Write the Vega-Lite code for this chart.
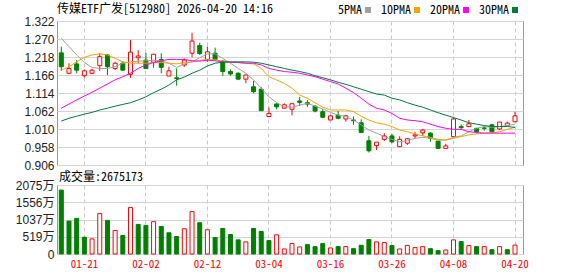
{
  "$schema": "https://vega.github.io/schema/vega-lite/v6.json",
  "autosize": {"type": "pad"},
  "padding": {"left": 14, "top": 3, "right": 56, "bottom": 4},
  "background": "#ffffff",
  "title": {"text": "传媒ETF广发[512980] 2026-04-20 14:16", "anchor": "start", "frame": "group", "orient": "top", "offset": -12, "fontSize": 12, "fontWeight": "normal", "font": "Noto Sans Mono CJK SC, Noto Sans CJK SC, monospace", "color": "#000000"},
  "bounds": "flush",
  "spacing": 20,
  "resolve": {"scale": {"x": "independent", "y": "independent"}},
  "config": {
    "view": {"stroke": "#999999", "strokeWidth": 1},
    "axis": {"labelFont": "Liberation Sans, Noto Sans CJK SC", "labelFontSize": 12, "labelColor": "#222222", "ticks": false, "domain": false, "title": null, "gridColor": "#d4d4d4", "labelOverlap": false}
  },
  "datasets": {
    "k": [
      {"d": "01-16", "o": 1.230, "h": 1.248, "l": 1.178, "c": 1.190, "v": 1922, "vd": "down", "5PMA": 1.272, "10PMA": 1.180, "20PMA": 1.070, "30PMA": 1.033},
      {"d": "01-19", "o": 1.171, "h": 1.200, "l": 1.168, "c": 1.185, "v": 990, "vd": "down", "5PMA": 1.248, "10PMA": 1.190, "20PMA": 1.082, "30PMA": 1.041},
      {"d": "01-20", "o": 1.198, "h": 1.209, "l": 1.171, "c": 1.180, "v": 1072, "vd": "down", "5PMA": 1.224, "10PMA": 1.204, "20PMA": 1.094, "30PMA": 1.047},
      {"d": "01-21", "o": 1.164, "h": 1.182, "l": 1.159, "c": 1.178, "v": 505, "vd": "down", "5PMA": 1.202, "10PMA": 1.217, "20PMA": 1.105, "30PMA": 1.053},
      {"d": "01-22", "o": 1.171, "h": 1.184, "l": 1.168, "c": 1.180, "v": 455, "vd": "up", "5PMA": 1.188, "10PMA": 1.224, "20PMA": 1.116, "30PMA": 1.058},
      {"d": "01-23", "o": 1.193, "h": 1.229, "l": 1.178, "c": 1.219, "v": 1215, "vd": "up", "5PMA": 1.185, "10PMA": 1.227, "20PMA": 1.128, "30PMA": 1.065},
      {"d": "01-26", "o": 1.224, "h": 1.227, "l": 1.166, "c": 1.190, "v": 1011, "vd": "down", "5PMA": 1.185, "10PMA": 1.224, "20PMA": 1.140, "30PMA": 1.070},
      {"d": "01-27", "o": 1.185, "h": 1.204, "l": 1.180, "c": 1.200, "v": 708, "vd": "up", "5PMA": 1.190, "10PMA": 1.214, "20PMA": 1.152, "30PMA": 1.076},
      {"d": "01-28", "o": 1.200, "h": 1.206, "l": 1.177, "c": 1.180, "v": 556, "vd": "down", "5PMA": 1.200, "10PMA": 1.204, "20PMA": 1.161, "30PMA": 1.081},
      {"d": "01-29", "o": 1.168, "h": 1.267, "l": 1.158, "c": 1.232, "v": 1397, "vd": "up", "5PMA": 1.204, "10PMA": 1.200, "20PMA": 1.171, "30PMA": 1.086},
      {"d": "01-30", "o": 1.216, "h": 1.238, "l": 1.200, "c": 1.221, "v": 890, "vd": "down", "5PMA": 1.206, "10PMA": 1.200, "20PMA": 1.185, "30PMA": 1.094},
      {"d": "02-02", "o": 1.209, "h": 1.230, "l": 1.183, "c": 1.185, "v": 860, "vd": "down", "5PMA": 1.207, "10PMA": 1.200, "20PMA": 1.195, "30PMA": 1.103},
      {"d": "02-03", "o": 1.203, "h": 1.226, "l": 1.187, "c": 1.226, "v": 972, "vd": "up", "5PMA": 1.209, "10PMA": 1.202, "20PMA": 1.202, "30PMA": 1.115},
      {"d": "02-04", "o": 1.211, "h": 1.229, "l": 1.171, "c": 1.188, "v": 829, "vd": "down", "5PMA": 1.207, "10PMA": 1.202, "20PMA": 1.207, "30PMA": 1.125},
      {"d": "02-05", "o": 1.163, "h": 1.190, "l": 1.163, "c": 1.178, "v": 638, "vd": "down", "5PMA": 1.200, "10PMA": 1.200, "20PMA": 1.211, "30PMA": 1.137},
      {"d": "02-06", "o": 1.158, "h": 1.185, "l": 1.135, "c": 1.156, "v": 525, "vd": "down", "5PMA": 1.188, "10PMA": 1.198, "20PMA": 1.211, "30PMA": 1.152},
      {"d": "02-09", "o": 1.195, "h": 1.214, "l": 1.190, "c": 1.209, "v": 759, "vd": "up", "5PMA": 1.198, "10PMA": 1.202, "20PMA": 1.211, "30PMA": 1.160},
      {"d": "02-10", "o": 1.229, "h": 1.288, "l": 1.217, "c": 1.264, "v": 1276, "vd": "up", "5PMA": 1.204, "10PMA": 1.204, "20PMA": 1.207, "30PMA": 1.171},
      {"d": "02-11", "o": 1.251, "h": 1.259, "l": 1.224, "c": 1.228, "v": 941, "vd": "down", "5PMA": 1.216, "10PMA": 1.208, "20PMA": 1.206, "30PMA": 1.180},
      {"d": "02-12", "o": 1.211, "h": 1.248, "l": 1.204, "c": 1.233, "v": 729, "vd": "up", "5PMA": 1.227, "10PMA": 1.211, "20PMA": 1.209, "30PMA": 1.192},
      {"d": "02-13", "o": 1.229, "h": 1.245, "l": 1.207, "c": 1.211, "v": 495, "vd": "down", "5PMA": 1.227, "10PMA": 1.210, "20PMA": 1.207, "30PMA": 1.200},
      {"d": "02-24", "o": 1.206, "h": 1.209, "l": 1.164, "c": 1.176, "v": 768, "vd": "down", "5PMA": 1.214, "10PMA": 1.206, "20PMA": 1.204, "30PMA": 1.203},
      {"d": "02-25", "o": 1.176, "h": 1.182, "l": 1.164, "c": 1.169, "v": 586, "vd": "down", "5PMA": 1.200, "10PMA": 1.203, "20PMA": 1.203, "30PMA": 1.204},
      {"d": "02-26", "o": 1.171, "h": 1.174, "l": 1.151, "c": 1.154, "v": 425, "vd": "down", "5PMA": 1.185, "10PMA": 1.202, "20PMA": 1.202, "30PMA": 1.204},
      {"d": "02-27", "o": 1.154, "h": 1.168, "l": 1.142, "c": 1.166, "v": 364, "vd": "up", "5PMA": 1.171, "10PMA": 1.200, "20PMA": 1.200, "30PMA": 1.204},
      {"d": "03-02", "o": 1.132, "h": 1.149, "l": 1.113, "c": 1.118, "v": 768, "vd": "down", "5PMA": 1.152, "10PMA": 1.198, "20PMA": 1.200, "30PMA": 1.203},
      {"d": "03-03", "o": 1.125, "h": 1.131, "l": 1.063, "c": 1.063, "v": 677, "vd": "down", "5PMA": 1.128, "10PMA": 1.185, "20PMA": 1.195, "30PMA": 1.200},
      {"d": "03-04", "o": 1.046, "h": 1.072, "l": 1.046, "c": 1.055, "v": 404, "vd": "down", "5PMA": 1.103, "10PMA": 1.161, "20PMA": 1.185, "30PMA": 1.195},
      {"d": "03-05", "o": 1.082, "h": 1.086, "l": 1.067, "c": 1.074, "v": 577, "vd": "up", "5PMA": 1.086, "10PMA": 1.152, "20PMA": 1.180, "30PMA": 1.190},
      {"d": "03-06", "o": 1.070, "h": 1.084, "l": 1.070, "c": 1.080, "v": 152, "vd": "up", "5PMA": 1.074, "10PMA": 1.142, "20PMA": 1.176, "30PMA": 1.185},
      {"d": "03-09", "o": 1.067, "h": 1.084, "l": 1.050, "c": 1.083, "v": 313, "vd": "up", "5PMA": 1.073, "10PMA": 1.128, "20PMA": 1.174, "30PMA": 1.180},
      {"d": "03-10", "o": 1.091, "h": 1.103, "l": 1.077, "c": 1.087, "v": 212, "vd": "up", "5PMA": 1.079, "10PMA": 1.108, "20PMA": 1.171, "30PMA": 1.176},
      {"d": "03-11", "o": 1.086, "h": 1.094, "l": 1.074, "c": 1.082, "v": 282, "vd": "down", "5PMA": 1.084, "10PMA": 1.099, "20PMA": 1.166, "30PMA": 1.171},
      {"d": "03-12", "o": 1.076, "h": 1.079, "l": 1.058, "c": 1.062, "v": 222, "vd": "down", "5PMA": 1.076, "10PMA": 1.086, "20PMA": 1.161, "30PMA": 1.164},
      {"d": "03-13", "o": 1.060, "h": 1.067, "l": 1.041, "c": 1.044, "v": 313, "vd": "down", "5PMA": 1.068, "10PMA": 1.073, "20PMA": 1.154, "30PMA": 1.158},
      {"d": "03-16", "o": 1.036, "h": 1.050, "l": 1.036, "c": 1.048, "v": 182, "vd": "up", "5PMA": 1.058, "10PMA": 1.065, "20PMA": 1.147, "30PMA": 1.152},
      {"d": "03-17", "o": 1.050, "h": 1.062, "l": 1.038, "c": 1.041, "v": 222, "vd": "down", "5PMA": 1.050, "10PMA": 1.065, "20PMA": 1.140, "30PMA": 1.145},
      {"d": "03-18", "o": 1.039, "h": 1.050, "l": 1.031, "c": 1.048, "v": 222, "vd": "up", "5PMA": 1.046, "10PMA": 1.065, "20PMA": 1.128, "30PMA": 1.139},
      {"d": "03-19", "o": 1.036, "h": 1.046, "l": 1.022, "c": 1.034, "v": 161, "vd": "down", "5PMA": 1.036, "10PMA": 1.060, "20PMA": 1.115, "30PMA": 1.132},
      {"d": "03-20", "o": 1.028, "h": 1.038, "l": 0.998, "c": 1.000, "v": 263, "vd": "down", "5PMA": 1.022, "10PMA": 1.047, "20PMA": 1.099, "30PMA": 1.125},
      {"d": "03-23", "o": 0.976, "h": 0.990, "l": 0.942, "c": 0.947, "v": 435, "vd": "down", "5PMA": 1.007, "10PMA": 1.036, "20PMA": 1.082, "30PMA": 1.118},
      {"d": "03-24", "o": 0.962, "h": 0.972, "l": 0.949, "c": 0.972, "v": 364, "vd": "up", "5PMA": 0.998, "10PMA": 1.028, "20PMA": 1.070, "30PMA": 1.111},
      {"d": "03-25", "o": 0.980, "h": 0.998, "l": 0.975, "c": 0.990, "v": 344, "vd": "up", "5PMA": 0.988, "10PMA": 1.024, "20PMA": 1.065, "30PMA": 1.108},
      {"d": "03-26", "o": 0.990, "h": 0.996, "l": 0.969, "c": 0.973, "v": 253, "vd": "down", "5PMA": 0.980, "10PMA": 1.017, "20PMA": 1.055, "30PMA": 1.099},
      {"d": "03-27", "o": 0.959, "h": 0.989, "l": 0.959, "c": 0.980, "v": 152, "vd": "up", "5PMA": 0.973, "10PMA": 1.007, "20PMA": 1.041, "30PMA": 1.094},
      {"d": "03-30", "o": 0.969, "h": 0.984, "l": 0.964, "c": 0.982, "v": 253, "vd": "up", "5PMA": 0.976, "10PMA": 1.002, "20PMA": 1.036, "30PMA": 1.086},
      {"d": "03-31", "o": 0.990, "h": 1.002, "l": 0.983, "c": 0.993, "v": 192, "vd": "up", "5PMA": 0.983, "10PMA": 0.996, "20PMA": 1.034, "30PMA": 1.079},
      {"d": "04-01", "o": 0.999, "h": 1.010, "l": 0.990, "c": 1.007, "v": 222, "vd": "up", "5PMA": 0.986, "10PMA": 0.990, "20PMA": 1.031, "30PMA": 1.073},
      {"d": "04-02", "o": 0.998, "h": 1.001, "l": 0.973, "c": 0.983, "v": 161, "vd": "down", "5PMA": 0.983, "10PMA": 0.986, "20PMA": 1.024, "30PMA": 1.065},
      {"d": "04-03", "o": 0.975, "h": 0.975, "l": 0.954, "c": 0.954, "v": 100, "vd": "down", "5PMA": 0.978, "10PMA": 0.980, "20PMA": 1.017, "30PMA": 1.057},
      {"d": "04-07", "o": 0.954, "h": 0.967, "l": 0.954, "c": 0.961, "v": 121, "vd": "up", "5PMA": 0.978, "10PMA": 0.978, "20PMA": 1.012, "30PMA": 1.050},
      {"d": "04-08", "o": 0.988, "h": 1.043, "l": 0.988, "c": 1.039, "v": 425, "vd": "up", "5PMA": 0.986, "10PMA": 0.983, "20PMA": 1.009, "30PMA": 1.043},
      {"d": "04-09", "o": 1.017, "h": 1.023, "l": 1.009, "c": 1.014, "v": 374, "vd": "down", "5PMA": 0.990, "10PMA": 0.988, "20PMA": 1.009, "30PMA": 1.036},
      {"d": "04-10", "o": 1.017, "h": 1.036, "l": 1.017, "c": 1.025, "v": 253, "vd": "up", "5PMA": 1.002, "10PMA": 0.993, "20PMA": 1.002, "30PMA": 1.028},
      {"d": "04-13", "o": 1.012, "h": 1.012, "l": 0.997, "c": 1.002, "v": 222, "vd": "down", "5PMA": 1.012, "10PMA": 0.996, "20PMA": 1.000, "30PMA": 1.024},
      {"d": "04-14", "o": 1.013, "h": 1.017, "l": 1.005, "c": 1.012, "v": 222, "vd": "up", "5PMA": 1.017, "10PMA": 0.998, "20PMA": 0.998, "30PMA": 1.020},
      {"d": "04-15", "o": 1.022, "h": 1.025, "l": 1.000, "c": 1.002, "v": 131, "vd": "down", "5PMA": 1.015, "10PMA": 0.999, "20PMA": 0.998, "30PMA": 1.017},
      {"d": "04-16", "o": 1.010, "h": 1.030, "l": 1.007, "c": 1.030, "v": 222, "vd": "up", "5PMA": 1.017, "10PMA": 1.002, "20PMA": 0.998, "30PMA": 1.017},
      {"d": "04-17", "o": 1.020, "h": 1.031, "l": 1.020, "c": 1.027, "v": 131, "vd": "down", "5PMA": 1.020, "10PMA": 1.009, "20PMA": 0.998, "30PMA": 1.017},
      {"d": "04-20", "o": 1.031, "h": 1.060, "l": 1.031, "c": 1.048, "v": 267.5, "vd": "up", "5PMA": 1.024, "10PMA": 1.015, "20PMA": 0.998, "30PMA": 1.015}
    ]
  },
  "vconcat": [
    {
      "width": 466,
      "height": 144,
      "data": {"name": "k"},
      "encoding": {
        "x": {"field": "d", "type": "ordinal", "sort": null,
          "scale": {"paddingInner": 0, "paddingOuter": 0.3, "align": 0.1},
          "axis": {"values": ["01-21", "02-02", "02-12", "03-04", "03-16", "03-26", "04-08", "04-20"], "bandPosition": 0.5, "grid": true, "gridDash": [4, 3], "gridColor": "#c8c8c8", "labels": false, "ticks": false, "domain": false, "title": null}}
      },
      "layer": [
        {
          "mark": {"type": "rule", "strokeWidth": 1},
          "encoding": {
            "y": {"field": "l", "type": "quantitative",
              "scale": {"domain": [0.906, 1.322], "nice": false, "zero": false},
              "axis": {"values": [0.906, 0.958, 1.010, 1.062, 1.114, 1.166, 1.218, 1.270, 1.322], "tickCount": 9, "format": ".3f", "grid": true, "labelPadding": 3}},
            "y2": {"field": "h"},
            "color": {"condition": {"test": "datum.c >= datum.o && datum.d != '04-14'", "value": "#ff0000"}, "value": "#008000"}
          }
        },
        {
          "mark": {"type": "bar", "width": 4, "strokeWidth": 1},
          "encoding": {
            "y": {"field": "o", "type": "quantitative"},
            "y2": {"field": "c"},
            "fill": {"condition": {"test": "datum.c >= datum.o", "value": "#ffffff"}, "value": "#008000"},
            "stroke": {"condition": {"test": "datum.c >= datum.o", "value": "#ff0000"}, "value": "#008000"}
          }
        },
        {
          "transform": [{"fold": ["5PMA", "10PMA", "20PMA", "30PMA"], "as": ["ma", "val"]}],
          "mark": {"type": "line", "strokeWidth": 1},
          "encoding": {
            "y": {"field": "val", "type": "quantitative"},
            "color": {"field": "ma", "type": "nominal",
              "scale": {"domain": ["5PMA", "10PMA", "20PMA", "30PMA"], "range": ["#a0a0a0", "#f5a400", "#ff00ff", "#007a3d"]},
              "legend": {"orient": "none", "legendX": 305, "legendY": -17, "direction": "horizontal", "title": null, "labelFont": "Noto Sans Mono CJK SC, Noto Sans CJK SC, monospace", "labelFontSize": 12, "labelColor": "#000000", "symbolType": "square", "symbolSize": 4, "symbolStrokeWidth": 4, "labelAlign": "right", "labelOffset": -12, "columnPadding": 3}}
          }
        }
      ]
    },
    {
      "width": 466,
      "height": 69,
      "data": {"name": "k"},
      "title": {"text": "成交量:2675173", "anchor": "start", "frame": "group", "offset": -5, "fontSize": 12, "fontWeight": "normal", "font": "Noto Sans Mono CJK SC, Noto Sans CJK SC, monospace", "color": "#000000", "dx": 2},
      "mark": {"type": "bar", "width": 4, "strokeWidth": 1},
      "encoding": {
        "x": {"field": "d", "type": "ordinal", "sort": null,
          "scale": {"paddingInner": 0, "paddingOuter": 0.3, "align": 0.1},
          "axis": {"values": ["01-21", "02-02", "02-12", "03-04", "03-16", "03-26", "04-08", "04-20"], "bandPosition": 0.5, "grid": true, "gridDash": [4, 3], "gridColor": "#c8c8c8", "labelColor": "#ff0000", "labelFont": "Noto Sans Mono CJK SC, Noto Sans CJK SC, monospace", "labelFontSize": 11, "labelAngle": 0, "labelPadding": 4, "title": null}},
        "y": {"field": "v", "type": "quantitative",
          "scale": {"domain": [0, 2075], "nice": false},
          "axis": {"values": [0, 519, 1037, 1556, 2075], "tickCount": 5, "labelExpr": "datum.value == 0 ? '0' : datum.value + '万'", "grid": true, "labelPadding": 3}},
        "fill": {"condition": {"test": "datum.vd == 'up'", "value": "#ffffff"}, "value": "#008000"},
        "stroke": {"condition": {"test": "datum.vd == 'up'", "value": "#ff0000"}, "value": "#008000"}
      }
    }
  ]
}
